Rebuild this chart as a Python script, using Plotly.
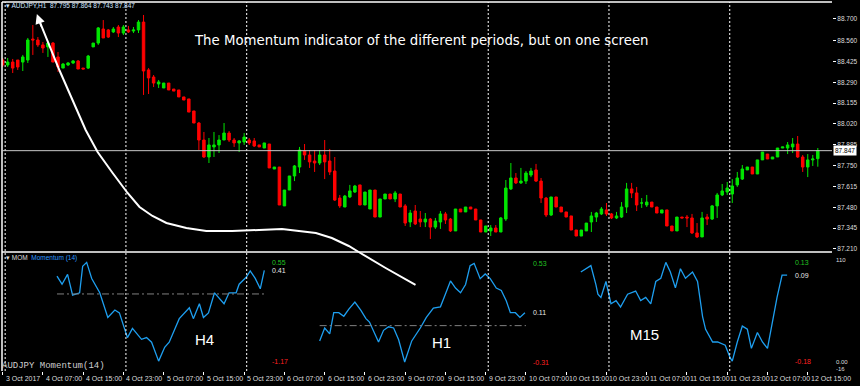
import plotly.graph_objects as go

# ---------------- data ----------------
bar_index = list(range(-1, 162))  # H1 bars, 0 = 4 Oct 00:00 (weekend skipped)

open_ = [88.434, 88.402, 88.421, 88.434, 88.421, 88.434, 88.570, 88.564, 88.532, 88.519,
         88.544, 88.454, 88.382, 88.402, 88.415, 88.428, 88.382, 88.382, 88.519, 88.544,
         88.635, 88.629, 88.616, 88.648, 88.609, 88.629, 88.622, 88.629, 88.680, 88.370,
         88.324, 88.279, 88.253, 88.285, 88.246, 88.240, 88.195, 88.182, 88.104, 88.026,
         87.916, 87.806, 87.871, 87.884, 87.916, 87.961, 87.916, 87.897, 87.903, 87.916,
         87.910, 87.884, 87.864, 87.890, 87.728, 87.741, 87.489, 87.592, 87.683, 87.741,
         87.845, 87.819, 87.780, 87.767, 87.819, 87.780, 87.715, 87.540, 87.482, 87.547,
         87.579, 87.625, 87.495, 87.469, 87.592, 87.417, 87.534, 87.566, 87.534, 87.566,
         87.489, 87.385, 87.456, 87.404, 87.385, 87.404, 87.352, 87.385, 87.437, 87.404,
         87.327, 87.469, 87.450, 87.482, 87.469, 87.398, 87.320, 87.327, 87.346, 87.320,
         87.404, 87.599, 87.670, 87.638, 87.650, 87.689, 87.722, 87.650, 87.540, 87.430,
         87.547, 87.482, 87.450, 87.424, 87.333, 87.294, 87.327, 87.385, 87.417, 87.437,
         87.463, 87.437, 87.411, 87.417, 87.482, 87.599, 87.573, 87.508, 87.495, 87.514,
         87.482, 87.443, 87.463, 87.359, 87.327, 87.417, 87.417, 87.411, 87.314, 87.288,
         87.417, 87.404, 87.489, 87.560, 87.579, 87.566, 87.625, 87.663, 87.722, 87.741,
         87.696, 87.787, 87.825, 87.793, 87.806, 87.864, 87.864, 87.871, 87.890, 87.806,
         87.741, 87.787, 87.795]
high_ = [88.447, 88.447, 88.441, 88.434, 88.467, 88.577, 88.661, 88.583, 88.551, 88.551,
         88.551, 88.486, 88.415, 88.421, 88.434, 88.434, 88.382, 88.467, 88.544, 88.648,
         88.693, 88.635, 88.648, 88.661, 88.661, 88.655, 88.648, 88.693, 88.726, 88.382,
         88.337, 88.305, 88.285, 88.285, 88.246, 88.240, 88.195, 88.182, 88.104, 88.033,
         87.968, 87.929, 87.968, 87.948, 88.026, 87.974, 87.929, 87.916, 87.961, 87.929,
         87.929, 87.884, 87.897, 87.890, 87.741, 87.741, 87.592, 87.683, 87.754, 87.871,
         87.890, 87.851, 87.851, 87.851, 87.916, 87.858, 87.806, 87.560, 87.560, 87.625,
         87.625, 87.625, 87.579, 87.592, 87.592, 87.534, 87.566, 87.566, 87.586, 87.566,
         87.501, 87.463, 87.495, 87.456, 87.443, 87.411, 87.411, 87.456, 87.450, 87.411,
         87.469, 87.469, 87.482, 87.482, 87.469, 87.398, 87.359, 87.365, 87.365, 87.417,
         87.657, 87.767, 87.702, 87.735, 87.715, 87.735, 87.761, 87.670, 87.547, 87.547,
         87.547, 87.482, 87.450, 87.424, 87.333, 87.333, 87.378, 87.450, 87.450, 87.482,
         87.508, 87.443, 87.450, 87.514, 87.638, 87.638, 87.612, 87.540, 87.560, 87.514,
         87.482, 87.463, 87.463, 87.359, 87.417, 87.417, 87.430, 87.437, 87.378, 87.450,
         87.437, 87.495, 87.573, 87.631, 87.644, 87.663, 87.709, 87.754, 87.741, 87.741,
         87.787, 87.838, 87.825, 87.806, 87.864, 87.871, 87.903, 87.929, 87.942, 87.819,
         87.825, 87.819, 87.864]
low_ = [88.389, 88.389, 88.350, 88.370, 88.363, 88.415, 88.467, 88.519, 88.480, 88.454,
        88.421, 88.357, 88.382, 88.395, 88.408, 88.376, 88.376, 88.376, 88.519, 88.532,
        88.577, 88.577, 88.609, 88.583, 88.596, 88.609, 88.609, 88.609, 88.208, 88.214,
        88.259, 88.253, 88.253, 88.240, 88.233, 88.195, 88.175, 88.097, 88.026, 87.851,
        87.800, 87.767, 87.806, 87.832, 87.916, 87.903, 87.871, 87.838, 87.884, 87.884,
        87.871, 87.871, 87.864, 87.735, 87.728, 87.495, 87.489, 87.592, 87.650, 87.702,
        87.787, 87.735, 87.709, 87.754, 87.663, 87.689, 87.521, 87.476, 87.482, 87.540,
        87.573, 87.495, 87.495, 87.469, 87.417, 87.417, 87.534, 87.534, 87.514, 87.482,
        87.359, 87.352, 87.365, 87.352, 87.352, 87.275, 87.340, 87.340, 87.372, 87.320,
        87.327, 87.450, 87.450, 87.469, 87.398, 87.320, 87.320, 87.294, 87.320, 87.320,
        87.391, 87.592, 87.631, 87.631, 87.631, 87.676, 87.644, 87.508, 87.417, 87.424,
        87.482, 87.450, 87.417, 87.333, 87.294, 87.294, 87.327, 87.320, 87.385, 87.430,
        87.424, 87.404, 87.404, 87.411, 87.443, 87.540, 87.456, 87.476, 87.482, 87.482,
        87.443, 87.443, 87.359, 87.327, 87.327, 87.411, 87.352, 87.307, 87.281, 87.288,
        87.365, 87.398, 87.411, 87.553, 87.560, 87.508, 87.612, 87.657, 87.722, 87.696,
        87.696, 87.787, 87.793, 87.793, 87.806, 87.864, 87.825, 87.832, 87.800, 87.709,
        87.676, 87.748, 87.743]
close_ = [88.402, 88.421, 88.382, 88.389, 88.454, 88.564, 88.564, 88.532, 88.512, 88.544,
          88.421, 88.389, 88.408, 88.415, 88.428, 88.376, 88.376, 88.460, 88.544, 88.642,
          88.577, 88.583, 88.635, 88.609, 88.648, 88.616, 88.629, 88.680, 88.363, 88.318,
          88.285, 88.292, 88.285, 88.240, 88.233, 88.195, 88.175, 88.097, 88.026, 87.916,
          87.806, 87.884, 87.884, 87.916, 87.961, 87.916, 87.897, 87.910, 87.935, 87.897,
          87.877, 87.871, 87.897, 87.735, 87.741, 87.495, 87.592, 87.683, 87.748, 87.851,
          87.819, 87.774, 87.767, 87.819, 87.774, 87.709, 87.527, 87.489, 87.553, 87.586,
          87.618, 87.495, 87.579, 87.592, 87.417, 87.534, 87.566, 87.534, 87.573, 87.482,
          87.378, 87.443, 87.372, 87.385, 87.404, 87.352, 87.391, 87.437, 87.398, 87.327,
          87.469, 87.450, 87.482, 87.469, 87.398, 87.320, 87.359, 87.346, 87.320, 87.411,
          87.605, 87.670, 87.638, 87.650, 87.702, 87.715, 87.650, 87.540, 87.430, 87.547,
          87.482, 87.450, 87.417, 87.333, 87.294, 87.333, 87.378, 87.424, 87.443, 87.469,
          87.437, 87.411, 87.424, 87.482, 87.599, 87.573, 87.495, 87.508, 87.514, 87.482,
          87.443, 87.463, 87.359, 87.327, 87.417, 87.411, 87.411, 87.314, 87.288, 87.411,
          87.404, 87.489, 87.560, 87.586, 87.605, 87.618, 87.670, 87.728, 87.741, 87.696,
          87.787, 87.838, 87.793, 87.806, 87.864, 87.871, 87.884, 87.890, 87.806, 87.741,
          87.787, 87.793, 87.847]

day_starts = [0, 24, 48, 96, 120, 144]  # period separators (bar index)

tick_bars = [-1, 7, 15, 23, 31, 39, 47, 55, 63, 71, 79, 87, 95, 103, 111, 119, 127, 135, 143, 151, 159]
tick_text = ["3 Oct 2017", "4 Oct 07:00", "4 Oct 15:00", "4 Oct 23:00", "5 Oct 07:00",
             "5 Oct 15:00", "5 Oct 23:00", "6 Oct 07:00", "6 Oct 15:00", "6 Oct 23:00",
             "9 Oct 07:00", "9 Oct 15:00", "9 Oct 23:00", "10 Oct 07:00", "10 Oct 15:00",
             "10 Oct 23:00", "11 Oct 07:00", "11 Oct 15:00", "11 Oct 23:00", "12 Oct 07:00",
             "12 Oct 15:00"]

price_levels = [88.700, 88.560, 88.425, 88.290, 88.155, 88.020, 87.885,
                87.750, 87.615, 87.480, 87.345, 87.210]

# Momentum(14) pasted from three timeframes (placed along the H1 bar axis)
h4_x = [9.8, 10.8, 11.9, 12.9, 14.3, 14.9, 15.7, 16.7, 18.3, 19.9, 21.3, 22.2, 23.8, 24.8,
        26.6, 27.6, 28.6, 30.0, 31.2, 32.1, 34.1, 36.1, 36.9, 38.1, 38.9, 39.9, 41.1, 43.0,
        44.0, 45.4, 46.0, 47.4, 48.2, 49.2, 50.2, 51.0]
h4_v = [0.31, 0.17, 0.34, -0.02, 0.02, 0.48, 0.55, 0.27, 0.02, -0.41, -0.28, -0.33, -0.76,
        -0.60, -0.79, -0.76, -0.84, -1.17, -0.93, -0.84, -0.43, -0.24, -0.43, -0.17, -0.41,
        -0.33, 0.02, -0.17, 0.02, 0.02, 0.17, 0.29, 0.40, 0.27, 0.09, 0.41]
h1_x = [62.0, 63.0, 64.0, 64.8, 65.8, 66.8, 67.8, 69.0, 70.2, 71.2, 71.9, 72.7, 73.7, 74.7,
        75.7, 76.7, 77.7, 78.9, 80.3, 82.0, 83.2, 84.6, 86.0, 87.0, 88.0, 89.0, 90.0, 91.0,
        91.9, 92.7, 93.9, 94.9, 95.9, 97.1, 98.1, 99.1, 99.9, 100.9, 101.8, 102.8]
h1_v = [-0.13, -0.02, -0.07, 0.11, 0.11, 0.08, 0.14, 0.20, 0.13, 0.06, 0.03, -0.04, -0.14,
        -0.04, -0.01, -0.02, -0.12, -0.31, -0.13, -0.02, 0.07, 0.15, 0.16, 0.27, 0.38, 0.32,
        0.28, 0.35, 0.51, 0.53, 0.40, 0.44, 0.40, 0.32, 0.30, 0.21, 0.11, 0.11, 0.07, 0.11]
m15_x = [113.9, 115.9, 116.9, 117.3, 117.9, 118.9, 119.9, 120.9, 121.8, 123.2, 124.8, 125.8,
         126.8, 127.8, 128.8, 129.8, 130.8, 131.7, 132.7, 133.7, 134.7, 136.1, 137.1, 138.1,
         138.7, 140.1, 141.1, 142.6, 143.6, 144.0, 145.0, 146.0, 147.0, 147.8, 149.0, 150.0,
         151.0, 151.9, 152.9, 153.9, 154.9]
m15_v = [0.10, 0.12, 0.06, 0.03, 0.02, 0.07, 0.00, 0.01, -0.01, 0.03, 0.04, 0.01, 0.02, 0.00,
         0.07, 0.08, 0.13, 0.10, 0.05, 0.11, 0.08, 0.10, 0.07, -0.04, -0.08, -0.12, -0.12,
         -0.13, -0.17, -0.18, -0.12, -0.07, -0.08, -0.14, -0.09, -0.12, -0.14, -0.06, 0.02,
         0.09, 0.09]

panels = [
    dict(name="H4", x=h4_x, v=h4_v, hi="0.55", cur="0.41", lo="-1.17", zero=True, axis="y3"),
    dict(name="H1", x=h1_x, v=h1_v, hi="0.53", cur="0.11", lo="-0.31", zero=True, axis="y4"),
    dict(name="M15", x=m15_x, v=m15_v, hi="0.13", cur="0.09", lo="-0.18", zero=False, axis="y5"),
]
ranges = {"y3": [-1.342, 0.705], "y4": [-0.386, 0.614], "y5": [-0.211, 0.158]}
label_pos = {"H4": (39.1, -0.79), "H1": (86.2, -0.142), "M15": (126.6, -0.096)}

# ---------------- styling / layout ----------------
W, H = 860, 386
ML, MR, MT, MB = 2, 25, 2, 15
PW, PH = W - ML - MR, H - MT - MB
GREEN, RED, BLUE = "#00e600", "#ff0000", "#1e9ff0"
split = (H - MB - 252) / PH   # panel separator


def px(xp, yp):
    return (xp - ML) / PW, (H - MB - yp) / PH


fig = go.Figure()
fig.add_trace(go.Candlestick(
    x=bar_index, open=open_, high=high_, low=low_, close=close_,
    increasing=dict(line=dict(color=GREEN, width=1), fillcolor=GREEN),
    decreasing=dict(line=dict(color=RED, width=1), fillcolor=RED),
    whiskerwidth=0, hoverinfo="skip", showlegend=False, xaxis="x", yaxis="y"))

for p in panels:
    fig.add_trace(go.Scatter(x=p["x"], y=p["v"], mode="lines",
                             line=dict(color=BLUE, width=1.3), hoverinfo="skip",
                             showlegend=False, xaxis="x", yaxis=p["axis"]))

shapes = []
# frame lines
for (x0, y0, x1, y1) in [(2, 2, 835, 2), (2, 2, 2, 371), (2, 252, 835, 252)]:
    a = px(x0, y0)
    b = px(x1, y1)
    shapes.append(dict(type="line", xref="paper", yref="paper", x0=a[0], y0=a[1],
                       x1=b[0], y1=b[1], line=dict(color="white", width=1.5)))
# period separators
for d in day_starts:
    shapes.append(dict(type="line", xref="x", yref="paper", x0=d - 0.5, x1=d - 0.5,
                       y0=0.0, y1=1.0, line=dict(color="white", width=1, dash="2px,2px")))
# current price line
shapes.append(dict(type="line", xref="paper", yref="y", x0=0, x1=1, y0=close_[-1],
                   y1=close_[-1], line=dict(color="#c8c8c8", width=1)))
# zero levels of the momentum panels
for p in panels:
    if p["zero"]:
        shapes.append(dict(type="line", xref="x", yref=p["axis"], x0=p["x"][0],
                           x1=p["x"][-1] + 0.2, y0=0, y1=0,
                           line=dict(color="#808080", width=1, dash="7px,3px,2px,3px")))
# hand drawn curve
curve_pts = [(38, 17), (60, 71), (86, 130), (98, 152), (113, 173), (128, 193), (140, 207),
             (153, 216), (167, 223), (187, 228), (207, 231), (233, 231), (260, 230),
             (283, 229), (300, 231), (317, 233), (333, 238), (350, 246), (360, 252),
             (387, 268), (417, 285)]
path = ""
for i, (a, b) in enumerate(curve_pts):
    fx, fy = px(a, b)
    path += ("M" if i == 0 else " L") + f"{fx:.4f},{fy:.4f}"
shapes.append(dict(type="path", xref="paper", yref="paper", path=path,
                   line=dict(color="white", width=2)))

ann = []
# arrow head
tx, ty = px(37, 14)
ann.append(dict(x=tx, y=ty, xref="paper", yref="paper", ax=5, ay=14, text="",
                showarrow=True, arrowhead=2, arrowsize=1.2, arrowwidth=1.6,
                arrowcolor="white"))
# title
tx, ty = px(423, 40)
ann.append(dict(x=tx, y=ty, xref="paper", yref="paper", xanchor="center", yanchor="middle",
                text="The Momentum indicator of the different periods, but on one screen",
                showarrow=False, font=dict(family="DejaVu Sans", size=13.3, color="white")))
# chart info
tx, ty = px(4, 6)
ann.append(dict(x=tx, y=ty, xref="paper", yref="paper", xanchor="left", yanchor="middle",
                text="▾ AUDJPY,H1  %.3f %.3f %.3f %.3f" % (open_[-1], high_[-1], low_[-1], close_[-1]),
                showarrow=False, font=dict(family="Liberation Sans", size=6.5, color="#cfe3ff")))
# indicator window title
tx, ty = px(4, 258)
ann.append(dict(x=tx, y=ty, xref="paper", yref="paper", xanchor="left", yanchor="middle",
                text="▾ MOM  <span style='color:#2f9bff'>Momentum (14)</span>",
                showarrow=False, font=dict(family="Liberation Sans", size=6.5, color="#dddddd")))
tx, ty = px(0, 366)
ann.append(dict(x=tx, y=ty, xref="paper", yref="paper", xanchor="left", yanchor="middle",
                text="AUDJPY Momentum(14)", showarrow=False,
                font=dict(family="Liberation Mono", size=9, color="#cfcfcf")))
# indicator panel value scale (right side)
for txt, yp in [("110", 260), ("0.00", 362), ("-16", 369)]:
    tx, ty = px(837, yp)
    ann.append(dict(x=1, y=ty, xref="paper", yref="paper", xanchor="left", yanchor="middle",
                    xshift=2, text=txt, showarrow=False,
                    font=dict(family="Liberation Sans", size=6, color="#dddddd")))
# current price box
ann.append(dict(x=1, y=close_[-1], xref="paper", yref="y", xanchor="left", yanchor="middle",
                xshift=1, text="%.3f" % close_[-1], showarrow=False, bgcolor="white",
                borderpad=1, font=dict(family="Liberation Sans", size=6.5, color="black")))
# momentum panel labels
for p in panels:
    xl = p["x"][-1] + 1.2
    hi, lo = float(p["hi"]), float(p["lo"])
    for txt, val, col in [(p["hi"], hi, "#21c021"), (p["cur"], float(p["cur"]), "#e8e8e8"),
                          (p["lo"], lo, "#ff2020")]:
        ann.append(dict(x=xl, y=val, xref="x", yref=p["axis"], xanchor="left",
                        yanchor="middle", text=txt, showarrow=False,
                        font=dict(family="Liberation Sans", size=7, color=col)))
    lx, ly = label_pos[p["name"]]
    ann.append(dict(x=lx, y=ly, xref="x", yref=p["axis"], xanchor="center", yanchor="middle",
                    text=p["name"], showarrow=False,
                    font=dict(family="Liberation Sans", size=15, color="white")))
# time axis labels
ty = px(0, 378)[1]
for b, t in zip(tick_bars, tick_text):
    ann.append(dict(x=b, y=ty, xref="x", yref="paper", xanchor="left", yanchor="middle",
                    xshift=1, text=t, showarrow=False,
                    font=dict(family="Liberation Sans", size=7, color="#dddddd")))

x_lo = (ML - 7.7) / 5.05
x_hi = (W - MR - 7.7) / 5.05

fig.update_layout(
    width=W, height=H, margin=dict(l=ML, r=MR, t=MT, b=MB),
    paper_bgcolor="black", plot_bgcolor="black",
    shapes=shapes, annotations=ann, showlegend=False,
    xaxis=dict(range=[x_lo, x_hi], domain=[0, 1], anchor="y3", showgrid=False,
               zeroline=False, showline=False, ticks="outside", ticklen=3,
               tickcolor="white", tickvals=tick_bars, showticklabels=False,
               rangeslider=dict(visible=False), fixedrange=True),
    yaxis=dict(domain=[split, 1], range=[87.1905, 88.810], side="right", anchor="x",
               tickvals=price_levels, ticktext=["%.3f" % v for v in price_levels],
               ticks="outside", ticklen=3, tickcolor="white", showgrid=False,
               zeroline=False, showline=False,
               tickfont=dict(family="Liberation Sans", size=6.5, color="#dddddd")),
    yaxis3=dict(domain=[0, split - 0.004], range=ranges["y3"], showgrid=False, zeroline=False,
                showticklabels=False, ticks="", showline=False),
    yaxis4=dict(overlaying="y3", range=ranges["y4"], showgrid=False, zeroline=False,
                showticklabels=False, ticks="", showline=False),
    yaxis5=dict(overlaying="y3", range=ranges["y5"], showgrid=False, zeroline=False,
                showticklabels=False, ticks="", showline=False),
)

fig.write_html("out.html", config={"displayModeBar": False},
               post_script="document.body.style.margin='0';document.body.style.overflow='hidden';")
